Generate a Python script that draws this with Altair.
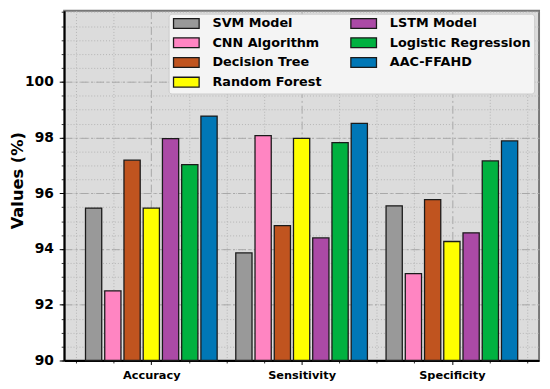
import altair as alt
import pandas as pd

categories = ["Accuracy", "Sensitivity", "Specificity"]
models = ["SVM Model", "CNN Algorithm", "Decision Tree", "Random Forest",
          "LSTM Model", "Logistic Regression", "AAC-FFAHD"]
colors = ["#999999", "#ff85c2", "#c0541f", "#ffff00", "#ab4aa6", "#00b140", "#0077b6"]

svm = [95.47, 93.86, 95.55]
cnn = [92.50, 98.07, 93.12]
dt = [97.19, 94.84, 95.77]
rf = [95.47, 97.97, 94.27]
lstm = [97.96, 94.40, 94.58]
lr = [97.03, 97.82, 97.16]
aac = [98.77, 98.51, 97.88]
series = [svm, cnn, dt, rf, lstm, lr, aac]

y_major = [90, 92, 94, 96, 98, 100]
y_minor = [90 + 0.5 * i for i in range(26)]
x_minor = [-0.5, -0.25, 0.25, 0.5, 0.75, 1.25, 1.5, 1.75, 2.25, 2.5]

rows = []
for mi, (m, vals) in enumerate(zip(models, series)):
    for ci, (c, v) in enumerate(zip(categories, vals)):
        rows.append({"model": m, "mi": mi, "category": c, "ci": ci, "value": v})
df = pd.DataFrame(rows)

step = 0.128
half = 0.054
xdom = [-0.58, 2.58]
ydom = [90, 102.55]
FONT = "DejaVu Sans"

label_expr = "[" + ",".join("'%s'" % c for c in categories) + "][round(datum.value)]"

base = alt.Chart(df).transform_calculate(
    xc=f"datum.ci + (datum.mi - 3) * {step}"
).transform_calculate(
    xa=f"datum.xc - {half}", xb=f"datum.xc + {half}"
)

minor = base.mark_point(opacity=0).encode(
    x=alt.X("xc:Q", scale=alt.Scale(domain=xdom, nice=False, zero=False),
            axis=alt.Axis(orient="bottom", values=x_minor, labels=False, domain=False,
                          tickSize=2.5, tickColor="#333333", tickWidth=1,
                          grid=True, gridDash=[1, 2], gridColor="#b5b5b5", gridWidth=1,
                          title=None)),
    y=alt.Y("value:Q", scale=alt.Scale(domain=ydom, nice=False, zero=False),
            axis=alt.Axis(orient="left", values=y_minor, labels=False, domain=False,
                          tickSize=3, tickColor="#333333", tickWidth=1,
                          grid=True, gridDash=[1, 2], gridColor="#b5b5b5", gridWidth=1,
                          title=None)),
)

bars = base.mark_bar(stroke="#1a1a1a", strokeWidth=1.3).encode(
    x=alt.X("xa:Q", scale=alt.Scale(domain=xdom, nice=False, zero=False),
            axis=alt.Axis(orient="bottom", values=[0, 1, 2], labelExpr=label_expr,
                          labelFont=FONT, labelFontWeight="bold", labelFontSize=11.5,
                          labelColor="#000000", labelPadding=5,
                          tickSize=4, tickColor="#000000", tickWidth=1,
                          domain=True, domainColor="#000000", domainWidth=2,
                          grid=True, gridDash=[8, 3, 2, 3], gridColor="#a8a8a8", gridWidth=1,
                          title=None)),
    x2="xb:Q",
    y=alt.Y("value:Q", scale=alt.Scale(domain=ydom, nice=False, zero=False),
            axis=alt.Axis(orient="left", values=y_major, format="d",
                          labelFont=FONT, labelFontWeight="bold", labelFontSize=14,
                          labelColor="#000000", labelPadding=6,
                          tickSize=5, tickColor="#000000", tickWidth=1,
                          domain=True, domainColor="#000000", domainWidth=2,
                          grid=True, gridDash=[8, 3, 2, 3], gridColor="#a8a8a8", gridWidth=1,
                          title="Values (%)", titleFont=FONT, titleFontWeight="bold",
                          titleFontSize=16.5, titleColor="#000000", titleAngle=270,
                          titleX=-47, titleY=172, titleAlign="center",
                          titleBaseline="middle")),
    y2=alt.datum(90),
    color=alt.Color("model:N",
                    scale=alt.Scale(domain=models, range=colors),
                    legend=alt.Legend(
                        title=None, orient="none", legendX=106, legendY=3,
                        columns=2, columnPadding=26, rowPadding=3, padding=3,
                        fillColor="#f4f4f4", strokeColor="#cccccc", cornerRadius=3,
                        labelFont=FONT, labelFontWeight="bold", labelFontSize=13,
                        labelColor="#000000", labelOffset=20,
                        symbolType="M-2.6,-1L2.6,-1L2.6,1L-2.6,1Z", symbolSize=100,
                        symbolStrokeColor="#1a1a1a", symbolStrokeWidth=1.3,
                        symbolOpacity=1, symbolOffset=8.5)),
)

chart = alt.layer(minor, bars).resolve_axis(x="independent", y="independent").properties(
    width=482, height=355,
    autosize=alt.AutoSizeParams(type="none"),
    padding={"left": 57, "top": 0, "right": 3, "bottom": 18},
).configure_view(
    fill="#dcdcdc", stroke="#777777", strokeWidth=2
)

chart.save("out.html", embed_options={"renderer": "svg", "actions": False})
